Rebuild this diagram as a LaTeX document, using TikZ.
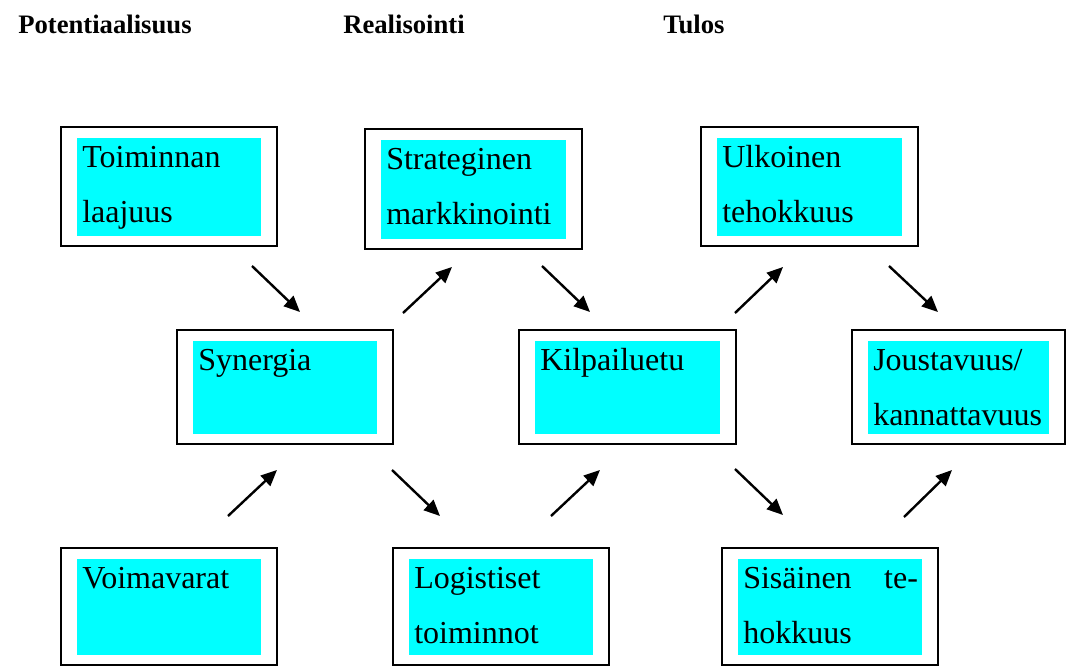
\documentclass[tikz,border=0pt]{standalone}
\usepackage{fontspec}
\setmainfont{Liberation Serif}
\usetikzlibrary{fit,arrows.meta}
\definecolor{cy}{RGB}{0,255,255}
\tikzset{
  outerbox/.style={draw=black, line width=1.5pt, inner sep=0pt, fill=white},
  innerbox/.style={fill=cy, draw=none, inner sep=0pt},
  boxtext/.style={anchor=north west, inner sep=0pt, align=left, text width=131pt,
                  font=\fontsize{24}{41.25}\selectfont},
  header/.style={anchor=base west, inner sep=0pt, font=\fontsize{20}{24}\selectfont\bfseries},
  arr/.style={line width=1.8pt, -{Triangle[length=12pt,width=10.5pt]}},
}
\newcommand\diagbox[6]{%
  \node[outerbox, fit={(#2,#3)(#4,#5)}] (#1) {};
  \node[innerbox, fit={(#2+16,#3+11)(#4-16,#5-10)}] (#1-in) {};
  \node[boxtext] (#1-txt) at (#2+21,#3+16) {\rule{0pt}{18pt}#6};
}
\begin{document}
\begin{tikzpicture}[x=0.75pt,y=-0.75pt]
\useasboundingbox (0,0) rectangle (1067,668);
% headers
\node[header] (h1) at (18,33) {Potentiaalisuus};
\node[header] (h2) at (343,33) {Realisointi};
\node[header] (h3) at (663,33) {Tulos};
% boxes
\diagbox{toim}{61}{127}{277}{246}{Toiminnan\\laajuus}
\diagbox{strat}{365}{129}{582}{249}{Strateginen\\markkinointi}
\diagbox{ulk}{701}{127}{918}{246}{Ulkoinen\\tehokkuus}
\diagbox{syn}{177}{330}{393}{444}{Synergia}
\diagbox{kilp}{519}{330}{736}{444}{Kilpailuetu}
\diagbox{jou}{852}{330}{1065}{444}{Joustavuus/\\kannattavuus}
\diagbox{voima}{61}{548}{277}{665}{Voimavarat}
\diagbox{log}{393}{548}{609}{665}{Logistiset\\toiminnot}
\diagbox{sis}{722}{548}{938}{665}{Sisäinen\hfill te-\\hokkuus}
% arrows, upper row
\draw[arr] ([shift={(83,19)}]toim.south) -- ([shift={(15,-17)}]syn.north);
\draw[arr] ([shift={(118,-16)}]syn.north) -- ([shift={(-21.5,17)}]strat.south);
\draw[arr] ([shift={(68.5,16)}]strat.south) -- ([shift={(-37.5,-17)}]kilp.north);
\draw[arr] ([shift={(107.5,-16)}]kilp.north) -- ([shift={(-26.5,20)}]ulk.south);
\draw[arr] ([shift={(79.5,19)}]ulk.south) -- ([shift={(-20.5,-17)}]jou.north);
% arrows, lower row
\draw[arr] ([shift={(59,-31)}]voima.north) -- ([shift={(-8,25)}]syn.south);
\draw[arr] ([shift={(107,25)}]syn.south) -- ([shift={(-61,-31)}]log.north);
\draw[arr] ([shift={(50,-31)}]log.north) -- ([shift={(-27.5,25)}]kilp.south);
\draw[arr] ([shift={(107.5,24)}]kilp.south) -- ([shift={(-47,-32)}]sis.north);
\draw[arr] ([shift={(74,-30)}]sis.north) -- ([shift={(-6.5,25)}]jou.south);
\end{tikzpicture}
\end{document}
